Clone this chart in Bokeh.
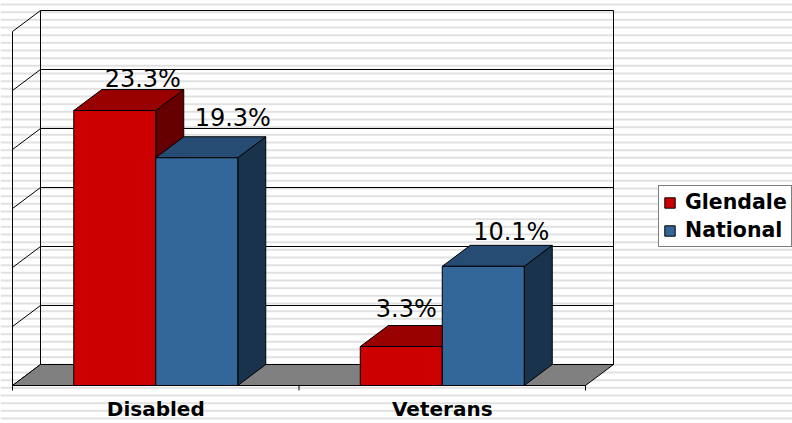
import numpy as np
from bokeh.plotting import figure
from bokeh.models import Range1d, ColumnDataSource, Legend, LegendItem
from bokeh.core.properties import value
from bokeh.embed import file_html
from bokeh.resources import INLINE

# ---------------- data ----------------
categories = ["Disabled", "Veterans"]
series_names = ["Glendale", "National"]
glendale = [23.3, 3.3]
national = [19.3, 10.1]
y_ticks = [0, 5, 10, 15, 20, 25, 30]

# ---------------- style / layout ----------------
W, H = 792, 423
origin_px = (12, 385)     # front-left-bottom corner of the plot box (canvas px)
cat_px = 286.5            # pixels per category
unit_px = 11.8            # pixels per percentage point
depth_px = (28, 21)       # 3-D depth offset (right, up)
bar_px = 82               # bar width in pixels
stripe_period = 23.0 / 3.0
stripe_phase = 4.0

front_colors = ["#CC0000", "#336699"]
top_colors = ["#990000", "#264C73"]
side_colors = ["#660000", "#1A334D"]
floor_color = "#808080"
stripe_color = "#E1E1E1"
label_dx = [[28, 5], [36, 28]]
label_dy = [[-32, -38], [-40, -34]]
cat_label_dy = 23
FONT_NAME = "DejaVu Sans"
FONT = value(FONT_NAME)

x0 = -origin_px[0] / cat_px
x1 = x0 + W / cat_px
y0 = -(H - origin_px[1]) / unit_px
y1 = y0 + H / unit_px
ddx = depth_px[0] / cat_px
ddy = depth_px[1] / unit_px
bw = bar_px / cat_px
n = len(categories)
ytop = max(y_ticks)

p = figure(width=W, height=H, x_range=Range1d(x0, x1), y_range=Range1d(y0, y1),
           x_axis_type=None, y_axis_type=None, toolbar_location=None,
           output_backend="svg", min_border=0, outline_line_color=None,
           background_fill_color="white", border_fill_color="white")
p.xgrid.visible = False
p.ygrid.visible = False

# background stripes
rows = np.arange(stripe_phase, H + stripe_period, stripe_period)
sy = y1 - rows / unit_px
p.segment(x0=[x0] * len(sy), x1=[x1] * len(sy), y0=sy, y1=sy,
          line_color=stripe_color, line_width=2)

# back wall gridlines
gy = [v + ddy for v in y_ticks]
p.segment(x0=[ddx] * len(gy), x1=[n + ddx] * len(gy), y0=gy, y1=gy,
          line_color="black", line_width=1)
# side wall diagonals
p.segment(x0=[0] * len(y_ticks), x1=[ddx] * len(y_ticks), y0=y_ticks, y1=gy,
          line_color="black", line_width=1)
# wall verticals
p.segment(x0=[0, ddx, n + ddx], x1=[0, ddx, n + ddx],
          y0=[0, ddy, ddy], y1=[ytop, ytop + ddy, ytop + ddy],
          line_color="black", line_width=1)

# floor
p.patch(x=[0, n, n + ddx, ddx], y=[0, 0, ddy, ddy], fill_color=floor_color,
        line_color="black", line_width=1)

# bars
front_renderers = []
all_vals = [glendale, national]
for s, vals in enumerate(all_vals):
    lefts = [i + 0.5 - bw + s * bw for i in range(n)]
    rights = [l + bw for l in lefts]
    side_xs = [[r, r + ddx, r + ddx, r] for r in rights]
    side_ys = [[0, ddy, v + ddy, v] for v in vals]
    p.patches(xs=side_xs, ys=side_ys, fill_color=side_colors[s],
              line_color="black", line_width=1)
    top_xs = [[l, r, r + ddx, l + ddx] for l, r in zip(lefts, rights)]
    top_ys = [[v, v, v + ddy, v + ddy] for v in vals]
    p.patches(xs=top_xs, ys=top_ys, fill_color=top_colors[s],
              line_color="black", line_width=1)
    src = ColumnDataSource(dict(left=lefts, right=rights, top=vals, bottom=[0] * n))
    r = p.quad(left="left", right="right", top="top", bottom="bottom", source=src,
               fill_color=front_colors[s], line_color="black", line_width=1)
    front_renderers.append(r)

# value labels
for s, vals in enumerate(all_vals):
    cx = [i + 0.5 - bw / 2 + s * bw for i in range(n)]
    lsrc = ColumnDataSource(dict(x=cx, y=vals, t=[f"{v:.1f}%" for v in vals],
                                 xo=label_dx[s], yo=label_dy[s]))
    p.text(x="x", y="y", text="t", x_offset="xo", y_offset="yo", source=lsrc,
           text_align="center", text_baseline="alphabetic", text_font=FONT,
           text_font_size="24px", text_color="black")

# category axis
p.segment(x0=[0], x1=[n], y0=[0], y1=[0], line_color="black", line_width=1)
tick_len = 5 / unit_px
p.segment(x0=list(range(n + 1)), x1=list(range(n + 1)), y0=[0] * (n + 1),
          y1=[-tick_len] * (n + 1), line_color="black", line_width=1)
p.text(x=[i + 0.5 for i in range(n)], y=[0] * n, text=categories, y_offset=cat_label_dy,
       text_align="center", text_baseline="alphabetic", text_font=FONT,
       text_font_style="bold", text_font_size="20px", text_color="black")

# legend
legend = Legend(items=[LegendItem(label=series_names[k], renderers=[front_renderers[k]])
                       for k in range(len(series_names))],
                location=(658, 176), orientation="vertical",
                border_line_color="black", border_line_width=1,
                background_fill_color="white", background_fill_alpha=1.0,
                padding=4, spacing=4, margin=0, glyph_width=13, glyph_height=13,
                label_standoff=9, label_text_font=FONT_NAME, label_text_font_style="bold",
                label_text_font_size="20.5px", label_text_color="black")
p.add_layout(legend)

html = file_html(p, INLINE)
open("out.html", "w").write(html)
